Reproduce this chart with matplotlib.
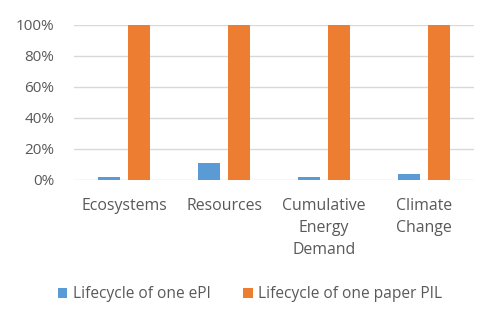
import matplotlib.pyplot as plt
import numpy as np

categories = ["Ecosystems", "Resources", "Cumulative\nEnergy\nDemand", "Climate\nChange"]
epi_values = [2, 11, 2, 4]
paper_values = [100, 100, 100, 100]
series_names = ["Lifecycle of one ePI", "Lifecycle of one paper PIL"]
y_ticks = [0, 20, 40, 60, 80, 100]

blue = "#5B9BD5"
orange = "#ED7D31"
text_gray = "#595959"

plt.rcParams["font.family"] = ["Open Sans", "DejaVu Sans"]

fig = plt.figure(figsize=(5.0, 3.27), dpi=100)
ax = fig.add_axes([0.148, 0.45, 0.80, 0.474])

x = np.arange(len(categories))
w = 0.22
gap = 0.08
ax.bar(x - (w + gap) / 2, epi_values, width=w, color=blue, label=series_names[0], zorder=3)
ax.bar(x + (w + gap) / 2, paper_values, width=w, color=orange, label=series_names[1], zorder=3)

ax.set_xlim(-0.5, len(categories) - 0.5)
ax.set_ylim(0, 100)
ax.set_yticks(y_ticks)
ax.set_yticklabels([f"{t}%" for t in y_ticks], fontsize=11)
ax.grid(axis="y", color="#D9D9D9", linewidth=1.0, zorder=0)
ax.set_xticks(x)
ax.set_xticklabels(categories, linespacing=1.5, va="top", fontsize=11.4)
ax.tick_params(axis="both", length=0, colors=text_gray)
ax.tick_params(axis="x", pad=13)
ax.tick_params(axis="y", pad=14)
for s in ax.spines.values():
    s.set_visible(False)

fig.legend(loc="center", bbox_to_anchor=(0.5, 0.10), ncol=2, frameon=False,
           fontsize=11.2, labelcolor=text_gray, handlelength=0.6, handleheight=0.6,
           handletextpad=0.35, columnspacing=2.1)

fig.savefig("out.png", dpi=100)
